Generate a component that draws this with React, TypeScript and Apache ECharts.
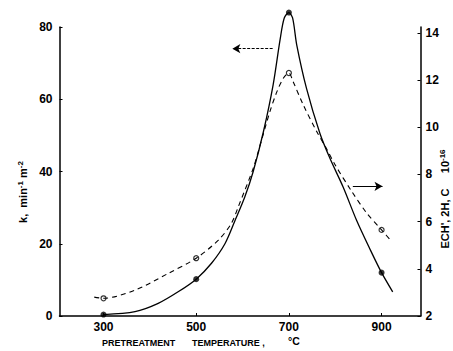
import React, { useEffect, useRef } from "react";
import * as echarts from "echarts";

// Tick labels
const xTicks = [300, 500, 700, 900];
const kTicks = [0, 20, 40, 60, 80];
const siteTicks = [2, 4, 6, 8, 10, 12, 14];

// Measured points
const tempPoints = [300, 500, 700, 900];
const kValues = [0.4, 10.2, 84, 12];
const siteValues = [2.75, 4.45, 12.3, 5.65];

// Curve traced through the reference (k, left axis)
const kCurveX = [300, 368, 418, 461, 500, 533, 562, 584, 605, 623, 645, 666, 681, 690, 700, 708, 717, 738, 767, 789, 817, 846, 875, 900, 924];
const kCurveY = [0.4, 1.2, 3.5, 6.7, 10.2, 14.6, 20, 26.5, 33, 40, 51, 64, 76.5, 82.5, 84, 82.5, 75, 63, 50.5, 43.5, 35.7, 26.5, 18.5, 12, 6.7];

// Curve traced through the reference (right axis, dashed)
const siteCurveX = [280, 300, 368, 440, 500, 548, 576, 591, 623, 638, 659, 674, 688, 700, 709, 731, 760, 781, 800, 835, 868, 900, 922];
const siteCurveY = [2.8, 2.75, 3.1, 3.81, 4.45, 5.22, 5.93, 6.64, 8.26, 9.25, 10.66, 11.5, 12.08, 12.3, 11.94, 10.95, 9.82, 9.1, 8.4, 7.3, 6.36, 5.65, 5.15];

const FONT = "Liberation Sans";

export default function App() {
  const ref = useRef<HTMLDivElement>(null);
  useEffect(() => {
    if (!ref.current) return;
    const chart = echarts.init(ref.current, undefined, { renderer: "svg" });
    const zip = (xs: number[], ys: number[]) => xs.map((x, i) => [x, ys[i]]);
    const axisLabelStyle = { color: "#000", fontFamily: FONT, fontWeight: "bold" as const, fontSize: 12 };
    const rich = {
      n: { fontSize: 11, fontFamily: FONT, fontWeight: "bold", fill: "#000", lineHeight: 14 },
      s: { fontSize: 8, fontFamily: FONT, fontWeight: "bold", fill: "#000", lineHeight: 8, verticalAlign: "top" },
    };
    chart.setOption({
      animation: false,
      backgroundColor: "#fff",
      grid: { left: 59.5, right: 32.5, top: 27, bottom: 35 },
      xAxis: {
        type: "value",
        min: 205,
        max: 984,
        axisLine: { show: true, lineStyle: { color: "#000", width: 1.5 } },
        axisTick: { show: true, inside: true, length: 3, customValues: xTicks, lineStyle: { color: "#000" } },
        axisLabel: { ...axisLabelStyle, customValues: xTicks, margin: 5 },
        splitLine: { show: false },
      },
      yAxis: [
        {
          type: "value",
          min: 0,
          max: 80,
          interval: 20,
          axisLine: { show: true, lineStyle: { color: "#000", width: 1.5 } },
          axisTick: { show: true, inside: true, length: 3, customValues: kTicks, lineStyle: { color: "#000" } },
          axisLabel: { ...axisLabelStyle, customValues: kTicks, margin: 7 },
          splitLine: { show: false },
        },
        {
          type: "value",
          min: 2,
          max: 14.25,
          position: "right",
          axisLine: { show: true, lineStyle: { color: "#000", width: 1.5 } },
          axisTick: { show: true, inside: true, length: 3, customValues: siteTicks, lineStyle: { color: "#000" } },
          axisLabel: { ...axisLabelStyle, customValues: siteTicks, margin: 5 },
          splitLine: { show: false },
        },
      ],
      series: [
        {
          type: "line",
          xAxisIndex: 0,
          yAxisIndex: 0,
          data: zip(kCurveX, kCurveY),
          smooth: 0.3,
          clip: false,
          showSymbol: false,
          lineStyle: { color: "#000", width: 1.3 },
          markLine: {
            silent: true,
            symbol: ["none", "arrow"],
            symbolSize: [7, 8],
            label: { show: false },
            lineStyle: { color: "#000", width: 1, type: "solid" },
            data: [
              [{ coord: [665, 74], lineStyle: { type: [3, 1.5] } }, { coord: [578, 74] }],
              [{ coord: [838, 35.9] }, { coord: [902, 35.9] }],
            ],
          },
        },
        {
          type: "line",
          xAxisIndex: 0,
          yAxisIndex: 1,
          data: zip(siteCurveX, siteCurveY),
          smooth: 0.3,
          clip: false,
          showSymbol: false,
          lineStyle: { color: "#000", width: 1.1, type: [5, 4] },
        },
        {
          type: "scatter",
          xAxisIndex: 0,
          yAxisIndex: 0,
          data: zip(tempPoints, kValues),
          clip: false,
          symbol: "circle",
          symbolSize: 6,
          itemStyle: { color: "#000" },
        },
        {
          type: "scatter",
          xAxisIndex: 0,
          yAxisIndex: 1,
          data: zip(tempPoints, siteValues),
          clip: false,
          symbol: "circle",
          symbolSize: 5,
          itemStyle: { color: "#fff", borderColor: "#000", borderWidth: 1.2 },
        },
      ],
      graphic: [
        {
          type: "text",
          x: 23,
          y: 192,
          rotation: Math.PI / 2,
          style: {
            text: "{n|k,  min}{s|-1}{n| m}{s|-2}",
            textAlign: "center",
            textVerticalAlign: "middle",
            fill: "#000",
            rich,
          },
        },
        {
          type: "text",
          x: 445,
          y: 199,
          rotation: Math.PI / 2,
          style: {
            text: "{n|ECH', 2H, C}{n|     10}{s|-16}",
            textAlign: "center",
            textVerticalAlign: "middle",
            fill: "#000",
            rich,
          },
        },
        {
          type: "text",
          x: 102,
          y: 343,
          style: { text: "PRETREATMENT", fill: "#000", fontFamily: FONT, fontWeight: "bold", fontSize: 9, textVerticalAlign: "middle" },
        },
        {
          type: "text",
          x: 192,
          y: 343,
          style: { text: "TEMPERATURE ,", fill: "#000", fontFamily: FONT, fontWeight: "bold", fontSize: 9, textVerticalAlign: "middle" },
        },
        {
          type: "text",
          x: 288,
          y: 341,
          style: { text: "°C", fill: "#000", fontFamily: FONT, fontWeight: "bold", fontSize: 10.5, textVerticalAlign: "middle" },
        },
      ],
    });
    return () => chart.dispose();
  }, []);
  return <div ref={ref} style={{ position: "fixed", left: 0, top: 0, width: 453, height: 351 }} />;
}
